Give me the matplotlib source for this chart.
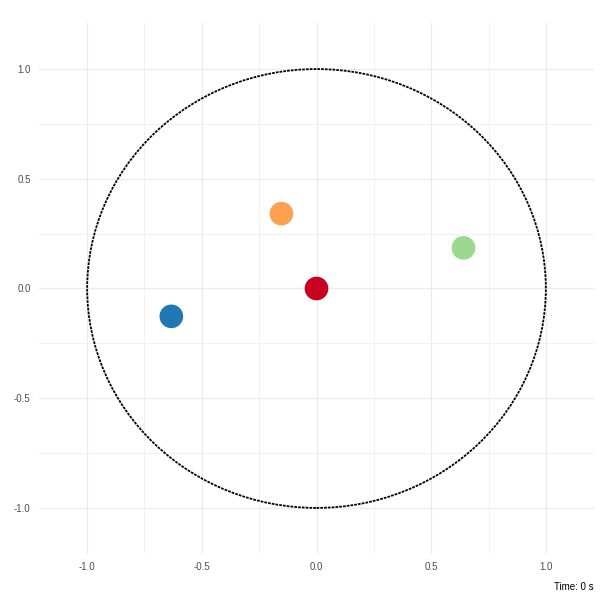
import matplotlib.pyplot as plt
from matplotlib.patches import Circle

plt.rcParams['font.family'] = ['Liberation Sans', 'DejaVu Sans']

# particle positions
x_pos = [-0.633, -0.153, 0.641, 0.0]
y_pos = [-0.127, 0.341, 0.185, 0.0]
colors = ['#1F78B4', '#FDA050', '#9AD98F', '#CA0020']
ticks = [-1.0, -0.5, 0.0, 0.5, 1.0]
minor_ticks = [-0.75, -0.25, 0.25, 0.75]
caption = 'Time: 0 s'

fig = plt.figure(figsize=(6, 6), dpi=100)
ax = fig.add_axes([0.065, 0.0767, 0.925, 0.885])

ax.add_patch(Circle((0, 0), 1.0, fill=False, edgecolor='black',
                    linewidth=1.3, linestyle=(0, (1.5, 0.6)), zorder=2))
ax.scatter(x_pos, y_pos, s=290, c=colors, edgecolors='none', zorder=3)

ax.set_xlim(-1.21, 1.21)
ax.set_ylim(-1.21, 1.21)
ax.set_xticks(ticks)
ax.set_yticks(ticks)
ax.set_xticks(minor_ticks, minor=True)
ax.set_yticks(minor_ticks, minor=True)
ax.set_xticklabels([f'{t:.1f}' for t in ticks])
ax.set_yticklabels([f'{t:.1f}' for t in ticks])
ax.grid(which='major', color='#EBEBEB', linewidth=0.9)
ax.grid(which='minor', color='#EFEFEF', linewidth=0.6)
ax.set_axisbelow(True)
ax.tick_params(which='both', length=0, labelsize=7, labelcolor='#4D4D4D', pad=6)
for s in ax.spines.values():
    s.set_visible(False)

fig.text(0.99, 0.014, caption, ha='right', va='bottom', fontsize=7)
fig.savefig('out.png', dpi=100)
